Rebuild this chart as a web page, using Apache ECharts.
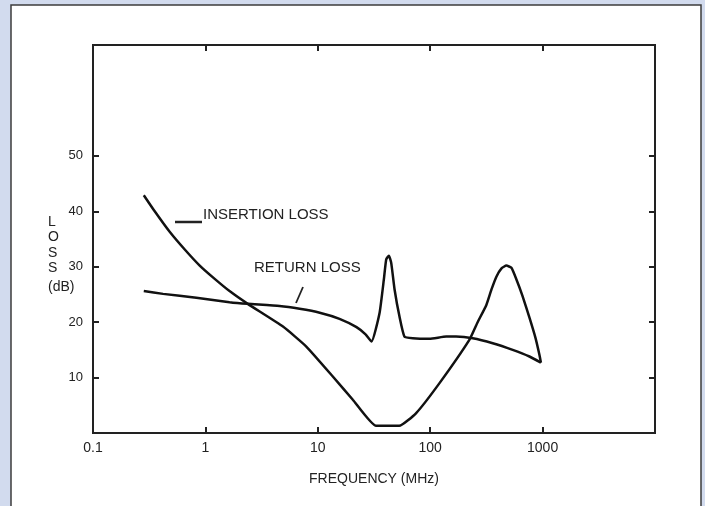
<!DOCTYPE html>
<html>
<head>
<meta charset="utf-8">
<script src="https://cdn.jsdelivr.net/npm/echarts@6/dist/echarts.min.js"></script>
<style>
  html, body { margin: 0; padding: 0; background: #d2dbee; }
  #chart { width: 705px; height: 506px; }
</style>
</head>
<body>
<div id="chart"></div>
<script>
// frequency in MHz, loss in dB
const insertionFreq = [0.283, 0.354, 0.481, 0.655, 0.89, 1.21, 1.64, 2.38, 4.9, 7.9, 13.6, 20.5, 33, 53, 75, 121, 223, 263, 316, 351, 388, 431, 476, 528, 585, 661, 764, 863, 937, 966]
const insertionLoss = [42.9, 40.0, 36.3, 33.1, 30.2, 27.8, 25.6, 23.3, 19.2, 15.6, 10.2, 6.0, 1.3, 1.3, 3.6, 9.0, 16.8, 19.9, 23.1, 25.9, 28.2, 29.7, 30.2, 29.8, 27.7, 24.8, 20.8, 17.2, 14.1, 12.7]

const returnFreq = [0.283, 0.42, 0.83, 1.64, 2.38, 4.57, 6.89, 10.4, 15.6, 22.1, 26.6, 30.1, 35.4, 38.7, 40.6, 42.9, 45, 48.2, 53.3, 59, 70, 98.6, 139, 170, 239, 360, 542, 764, 966]
const returnLoss = [25.6, 25.1, 24.4, 23.6, 23.3, 22.9, 22.4, 21.7, 20.6, 19.1, 17.8, 16.5, 21.6, 27.7, 31.3, 32.0, 30.7, 25.9, 21.0, 17.4, 17.1, 17.0, 17.4, 17.4, 17.1, 16.2, 15.0, 13.8, 12.7]

const xTickValues = [1, 10, 100, 1000]
const xLabelValues = [0.1, 1, 10, 100, 1000]
const yTickValues = [10, 20, 30, 40, 50]

const FONT = 'Liberation Sans, Arial, sans-serif'
const INK = '#222'

const chart = echarts.init(document.getElementById('chart'))

function pairs(xs, ys) {
  return xs.map((x, i) => [x, ys[i]])
}

const baseX = {
  type: 'log',
  logBase: 10,
  min: 0.1,
  max: 10000,
  splitLine: { show: false },
  axisLine: { show: true, onZero: false, lineStyle: { color: INK, width: 2 } },
}
const baseY = {
  type: 'value',
  min: 0,
  max: 70,
  interval: 10,
  splitLine: { show: false },
  axisLine: { show: true, lineStyle: { color: INK, width: 2 } },
}

chart.setOption({
  backgroundColor: '#d2dbee',
  animation: false,
  textStyle: { fontFamily: FONT },
  grid: {
    left: 93, right: 50, top: 45, bottom: 73,
    show: true, borderColor: INK, borderWidth: 2,
    containLabel: false, outerBoundsMode: 'none',
  },
  xAxis: [
    {
      ...baseX,
      position: 'bottom',
      name: 'FREQUENCY (MHz)',
      nameLocation: 'middle',
      nameGap: 39,
      nameTextStyle: { color: INK, fontSize: 14, fontFamily: FONT },
      axisTick: { show: true, inside: true, length: 6, lineStyle: { color: INK, width: 2 }, customValues: xTickValues },
      axisLabel: {
        color: INK, fontSize: 14, margin: 8, fontFamily: FONT,
        customValues: xLabelValues,
        formatter: v => String(Math.round(v * 10) / 10),
      },
    },
    {
      ...baseX,
      position: 'top',
      axisTick: { show: true, inside: true, length: 6, lineStyle: { color: INK, width: 2 }, customValues: xTickValues },
      axisLabel: { show: false },
    },
  ],
  yAxis: [
    {
      ...baseY,
      position: 'left',
      axisTick: { show: true, inside: true, length: 6, lineStyle: { color: INK, width: 2 }, customValues: yTickValues },
      axisLabel: { color: INK, fontSize: 13, margin: 10, fontFamily: FONT, customValues: yTickValues },
    },
    {
      ...baseY,
      position: 'right',
      axisTick: { show: true, inside: true, length: 6, lineStyle: { color: INK, width: 2 }, customValues: yTickValues },
      axisLabel: { show: false },
    },
  ],
  graphic: [
    {
      type: 'rect', z: -10, silent: true,
      shape: { x: 11, y: 5, width: 690, height: 520 },
      style: { fill: '#fff', stroke: '#3c3c3c', lineWidth: 1.5 },
    },
    {
      type: 'text', left: 48, top: 214, silent: true,
      style: { text: 'L\nO\nS\nS', font: '14px ' + FONT, fill: INK, lineHeight: 15.5, align: 'center' },
    },
    {
      type: 'text', left: 48, top: 280, silent: true,
      style: { text: '(dB)', font: '14px ' + FONT, fill: INK },
    },
    {
      type: 'text', left: 203, top: 207, silent: true,
      style: { text: 'INSERTION LOSS', font: '15px ' + FONT, fill: INK },
    },
    {
      type: 'line', silent: true,
      shape: { x1: 175, y1: 222, x2: 202, y2: 222 },
      style: { stroke: INK, lineWidth: 2.5 },
    },
    {
      type: 'text', left: 254, top: 260, silent: true,
      style: { text: 'RETURN LOSS', font: '15px ' + FONT, fill: INK },
    },
    {
      type: 'line', silent: true,
      shape: { x1: 303, y1: 287, x2: 296, y2: 303 },
      style: { stroke: INK, lineWidth: 1.8 },
    },
  ],
  series: [
    {
      name: 'Insertion loss',
      type: 'line',
      xAxisIndex: 0, yAxisIndex: 0,
      showSymbol: false,
      smooth: 0.15,
      lineStyle: { color: '#111', width: 2.5 },
      data: pairs(insertionFreq, insertionLoss),
    },
    {
      name: 'Return loss',
      type: 'line',
      xAxisIndex: 0, yAxisIndex: 0,
      showSymbol: false,
      smooth: 0.15,
      lineStyle: { color: '#111', width: 2.5 },
      data: pairs(returnFreq, returnLoss),
    },
  ],
})

window.addEventListener('resize', () => chart.resize())
</script>
</body>
</html>
